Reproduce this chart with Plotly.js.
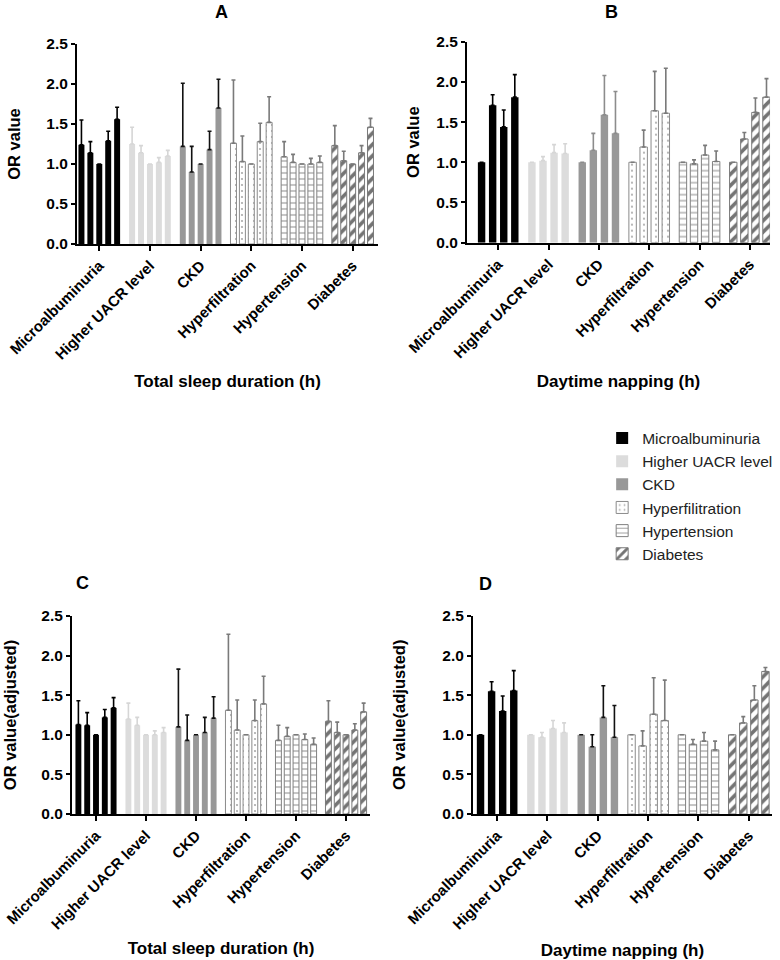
<!DOCTYPE html>
<html>
<head>
<meta charset="utf-8">
<script src="https://cdn.plot.ly/plotly-3.0.1.min.js"></script>
<style>html,body{margin:0;padding:0;background:#fff;}#chart{width:780px;height:960px;}</style>
</head>
<body>
<div id="chart"></div>
<script>
// ---- DATA ----
const categories = ['Microalbuminuria', 'Higher UACR level', 'CKD', 'Hyperfiltration', 'Hypertension', 'Diabetes'];
const legendNames = ['Microalbuminuria', 'Higher UACR level', 'CKD', 'Hyperfilitration', 'Hypertension', 'Diabetes'];
const panelLetters = ['A', 'B', 'C', 'D'];
const xTitles = ['Total sleep duration (h)', 'Daytime napping (h)', 'Total sleep duration (h)', 'Daytime napping (h)'];
const yTitles = ['OR value', 'OR value', 'OR value(adjusted)', 'OR value(adjusted)'];
const yTickVals = [0, 0.5, 1.0, 1.5, 2.0, 2.5];

// Panel A: OR values (5 sleep-duration levels per outcome) and upper CI
const orA = [
  [1.24, 1.14, 1.00, 1.29, 1.56],
  [1.25, 1.14, 1.00, 1.02, 1.10],
  [1.22, 0.90, 1.00, 1.18, 1.70],
  [1.26, 1.03, 1.00, 1.28, 1.52],
  [1.09, 1.02, 1.00, 1.00, 1.02],
  [1.23, 1.04, 1.00, 1.14, 1.46]
];
const upA = [
  [1.55, 1.28, 1.00, 1.41, 1.71],
  [1.46, 1.23, 1.00, 1.08, 1.17],
  [2.01, 1.22, 1.00, 1.41, 2.06],
  [2.05, 1.35, 1.00, 1.51, 1.84],
  [1.28, 1.12, 1.00, 1.07, 1.10],
  [1.48, 1.16, 1.00, 1.23, 1.57]
];
// Panel B: daytime napping (4 levels)
const orB = [
  [1.00, 1.71, 1.44, 1.81],
  [1.00, 1.02, 1.12, 1.11],
  [1.00, 1.15, 1.59, 1.36],
  [1.00, 1.19, 1.64, 1.61],
  [1.00, 0.98, 1.09, 1.01],
  [1.00, 1.29, 1.62, 1.81]
];
const upB = [
  [1.00, 1.84, 1.65, 2.09],
  [1.00, 1.07, 1.22, 1.23],
  [1.00, 1.36, 2.08, 1.88],
  [1.00, 1.40, 2.13, 2.17],
  [1.00, 1.03, 1.21, 1.14],
  [1.00, 1.37, 1.80, 2.04]
];
// Panel C: adjusted, total sleep duration
const orC = [
  [1.13, 1.12, 1.00, 1.22, 1.34],
  [1.20, 1.12, 1.00, 1.00, 1.03],
  [1.10, 0.93, 1.00, 1.03, 1.21],
  [1.31, 1.06, 1.00, 1.18, 1.39],
  [0.93, 0.98, 1.00, 0.94, 0.88],
  [1.17, 1.03, 1.00, 1.06, 1.29]
];
const upC = [
  [1.43, 1.28, 1.00, 1.32, 1.47],
  [1.40, 1.22, 1.00, 1.05, 1.09],
  [1.83, 1.25, 1.00, 1.22, 1.48],
  [2.27, 1.44, 1.00, 1.44, 1.74],
  [1.12, 1.09, 1.00, 1.01, 0.96],
  [1.43, 1.16, 1.00, 1.14, 1.40]
];
// Panel D: adjusted, daytime napping
const orD = [
  [1.00, 1.55, 1.30, 1.56],
  [1.00, 0.97, 1.08, 1.03],
  [1.00, 0.85, 1.22, 0.97],
  [1.00, 0.86, 1.26, 1.18],
  [1.00, 0.88, 0.92, 0.81],
  [1.00, 1.15, 1.44, 1.80]
];
const upD = [
  [1.00, 1.67, 1.49, 1.81],
  [1.00, 1.03, 1.18, 1.15],
  [1.00, 1.00, 1.62, 1.37],
  [1.00, 1.05, 1.72, 1.69],
  [1.00, 0.94, 1.03, 0.92],
  [1.00, 1.23, 1.62, 1.85]
];

// ---- STYLES ----
const FONT = 'Liberation Sans, Arial, Helvetica, sans-serif';
const fillColors = ['#000000', '#dcdcdc', '#989898', '#ffffff', '#ffffff', '#ffffff'];
const patShapes = ['', '', '', '.', '-', '/'];
const patFg = ['#000', '#000', '#000', '#a8a8a8', '#858585', '#747474'];
const patSize = [8, 8, 8, 6, 6, 8];
const patSolid = [0.3, 0.3, 0.3, 0.1, 0.16, 0.45];
const lineColors = ['#000000', '#dcdcdc', '#989898', '#8a8a8a', '#808080', '#7a7a7a'];
const lineWidths = [0, 0, 0, 1, 1, 1];
const errColorsByPanel = [
  ['#000000', '#d6d6d6', '#111111', '#7a7a7a', '#7a7a7a', '#7a7a7a'],
  ['#000000', '#d6d6d6', '#8c8c8c', '#7a7a7a', '#7a7a7a', '#7a7a7a'],
  ['#000000', '#d6d6d6', '#111111', '#7a7a7a', '#7a7a7a', '#7a7a7a'],
  ['#000000', '#d6d6d6', '#111111', '#7a7a7a', '#7a7a7a', '#7a7a7a']
];
const panelOr = [orA, orB, orC, orD];
const panelUp = [upA, upB, upC, upD];
const xDomains = [[0.0987, 0.4846], [0.5987, 0.9872], [0.0923, 0.4744], [0.6064, 0.9897]];
const yDomains = [[0.7458, 0.9542], [0.7472, 0.9566], [0.1521, 0.3583], [0.1521, 0.3583]];
const xRanges = [[-0.44, 5.5], [-0.62, 5.4], [-0.48, 5.48], [-0.48, 5.46]];
const yStandoffs = [22, 13, 21, 0];
const xStandoffs = [13, 15, 10, 15];

const traces = [];
for (let p = 0; p < 4; p++) {
  const xa = p === 0 ? 'x' : 'x' + (p + 1);
  const ya = p === 0 ? 'y' : 'y' + (p + 1);
  const orArr = panelOr[p], upArr = panelUp[p];
  for (let s = 0; s < categories.length; s++) {
    const nLev = orArr[s].length;
    for (let l = 0; l < nLev; l++) {
      const val = orArr[s][l];
      const marker = {
        color: fillColors[s],
        line: {color: lineColors[s], width: lineWidths[s]}
      };
      if (patShapes[s]) {
        marker.pattern = {shape: patShapes[s], fgcolor: patFg[s], bgcolor: '#ffffff',
          size: patSize[s], solidity: patSolid[s], fillmode: 'replace'};
      }
      traces.push({
        type: 'bar',
        x: [categories[s]],
        y: [val],
        xaxis: xa, yaxis: ya,
        offsetgroup: 'L' + l,
        name: legendNames[s],
        legendgroup: legendNames[s],
        showlegend: (p === 0 && l === 0),
        marker: marker,
        error_y: {
          type: 'data', symmetric: false,
          array: [upArr[s][l] - val], arrayminus: [0],
          color: errColorsByPanel[p][s], thickness: 1.6, width: 2
        },
        hoverinfo: 'x+y'
      });
    }
  }
}

const layout = {
  width: 780, height: 960,
  margin: {l: 0, r: 0, t: 0, b: 0},
  paper_bgcolor: '#ffffff', plot_bgcolor: '#ffffff',
  font: {family: FONT, color: '#000'},
  barmode: 'group', bargap: 0.12, bargroupgap: 0.33,
  showlegend: true,
  legend: {x: 0.772, y: 0.561, xanchor: 'left', yanchor: 'top',
    font: {family: FONT, size: 15.5, color: '#222'}, tracegroupgap: 0,
    traceorder: 'grouped', bgcolor: 'rgba(0,0,0,0)', itemwidth: 30},
  annotations: []
};
const letterPos = [[0.2846, 0.9875], [0.7846, 0.9875], [0.1064, 0.3927], [0.623, 0.3917]];
for (let p = 0; p < 4; p++) {
  const sx = p === 0 ? '' : String(p + 1);
  const useAnn = (p === 3);
  layout['xaxis' + sx] = {
    domain: xDomains[p], anchor: 'y' + sx, type: 'category',
    categoryorder: 'array', categoryarray: categories, range: xRanges[p],
    showline: true, linecolor: '#000', linewidth: 2, mirror: false,
    ticks: 'outside', ticklen: 5, tickwidth: 2, tickcolor: '#000',
    tickangle: -45, showgrid: false, zeroline: false, automargin: false,
    tickfont: {family: FONT, size: 15, weight: 700, color: '#000'},
    title: {text: xTitles[p], standoff: xStandoffs[p], font: {family: FONT, size: 17, weight: 700, color: '#000'}}
  };
  layout['yaxis' + sx] = {
    domain: yDomains[p], anchor: 'x' + sx, range: [0, 2.5],
    tickmode: 'array', tickvals: yTickVals, tickformat: '.1f',
    showline: true, linecolor: '#000', linewidth: 2,
    ticks: 'outside', ticklen: 4, tickwidth: 2, tickcolor: '#000',
    showgrid: false, zeroline: false, automargin: false,
    tickfont: {family: FONT, size: 15.5, weight: 700, color: '#000'},
    title: useAnn ? {text: ''} : {text: yTitles[p], standoff: yStandoffs[p], font: {family: FONT, size: 16.5, weight: 700, color: '#000'}}
  };
  if (useAnn) {
    layout.annotations.push({
      text: yTitles[p], xref: 'paper', yref: 'y' + sx + ' domain',
      x: 0.5115, y: 0.5, xanchor: 'center', yanchor: 'middle', textangle: -90,
      showarrow: false, font: {family: FONT, size: 16.5, weight: 700, color: '#000'}
    });
  }
  layout.annotations.push({
    text: panelLetters[p], xref: 'paper', yref: 'paper',
    x: letterPos[p][0], y: letterPos[p][1], xanchor: 'center', yanchor: 'middle',
    showarrow: false, font: {family: FONT, size: 18, weight: 700, color: '#000'}
  });
}

Plotly.newPlot('chart', traces, layout, {displayModeBar: false, staticPlot: true});
</script>
</body>
</html>
